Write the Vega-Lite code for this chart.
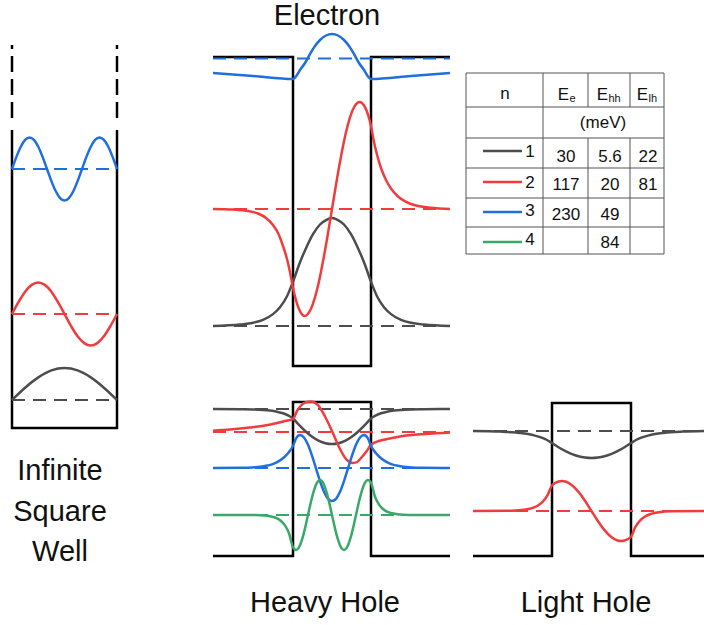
{
  "$schema": "https://vega.github.io/schema/vega-lite/v6.json",
  "width": 704,
  "height": 625,
  "autosize": "none",
  "padding": 0,
  "background": "white",
  "config": {"view": {"stroke": null}, "text": {"font": "Liberation Sans", "color": "#111"}},
  "datasets": {
    "curves": [
      {"g":"isw1","n":1,"x":12,"y":400},{"g":"isw1","n":1,"x":25.1,"y":387.7},{"g":"isw1","n":1,"x":38.3,"y":377.4},{"g":"isw1","n":1,"x":51.4,"y":370.4},{"g":"isw1","n":1,"x":64.5,"y":368},{"g":"isw1","n":1,"x":77.6,"y":370.4},{"g":"isw1","n":1,"x":90.8,"y":377.4},{"g":"isw1","n":1,"x":103.9,"y":387.7},{"g":"isw1","n":1,"x":117,"y":400},
      {"g":"isw2","n":2,"x":12,"y":314},{"g":"isw2","n":2,"x":18.6,"y":301.9},{"g":"isw2","n":2,"x":25.1,"y":291.7},{"g":"isw2","n":2,"x":31.7,"y":284.9},{"g":"isw2","n":2,"x":38.3,"y":282.5},{"g":"isw2","n":2,"x":44.8,"y":284.9},{"g":"isw2","n":2,"x":51.4,"y":291.7},{"g":"isw2","n":2,"x":57.9,"y":301.9},{"g":"isw2","n":2,"x":64.5,"y":314},{"g":"isw2","n":2,"x":71.1,"y":326.1},{"g":"isw2","n":2,"x":77.6,"y":336.3},{"g":"isw2","n":2,"x":84.2,"y":343.1},{"g":"isw2","n":2,"x":90.8,"y":345.5},{"g":"isw2","n":2,"x":97.3,"y":343.1},{"g":"isw2","n":2,"x":103.9,"y":336.3},{"g":"isw2","n":2,"x":110.4,"y":326.1},{"g":"isw2","n":2,"x":117,"y":314},
      {"g":"isw3","n":3,"x":12,"y":169},{"g":"isw3","n":3,"x":16.4,"y":156.9},{"g":"isw3","n":3,"x":20.8,"y":146.7},{"g":"isw3","n":3,"x":25.1,"y":139.9},{"g":"isw3","n":3,"x":29.5,"y":137.5},{"g":"isw3","n":3,"x":33.9,"y":139.9},{"g":"isw3","n":3,"x":38.3,"y":146.7},{"g":"isw3","n":3,"x":42.6,"y":156.9},{"g":"isw3","n":3,"x":47,"y":169},{"g":"isw3","n":3,"x":51.4,"y":181.1},{"g":"isw3","n":3,"x":55.8,"y":191.3},{"g":"isw3","n":3,"x":60.1,"y":198.1},{"g":"isw3","n":3,"x":64.5,"y":200.5},{"g":"isw3","n":3,"x":68.9,"y":198.1},{"g":"isw3","n":3,"x":73.3,"y":191.3},{"g":"isw3","n":3,"x":77.6,"y":181.1},{"g":"isw3","n":3,"x":82,"y":169},{"g":"isw3","n":3,"x":86.4,"y":156.9},{"g":"isw3","n":3,"x":90.8,"y":146.7},{"g":"isw3","n":3,"x":95.1,"y":139.9},{"g":"isw3","n":3,"x":99.5,"y":137.5},{"g":"isw3","n":3,"x":103.9,"y":139.9},{"g":"isw3","n":3,"x":108.3,"y":146.7},{"g":"isw3","n":3,"x":112.6,"y":156.9},{"g":"isw3","n":3,"x":117,"y":169},
      {"g":"e1","n":1,"x":213,"y":326},{"g":"e1","n":1,"x":240,"y":324.6},{"g":"e1","n":1,"x":253,"y":322.8},{"g":"e1","n":1,"x":263,"y":319.8},{"g":"e1","n":1,"x":273,"y":314.1},{"g":"e1","n":1,"x":280,"y":307.2},{"g":"e1","n":1,"x":287,"y":296.2},{"g":"e1","n":1,"x":293,"y":281.7},{"g":"e1","n":1,"x":300,"y":262.3},{"g":"e1","n":1,"x":306,"y":248.2},{"g":"e1","n":1,"x":313,"y":234.2},{"g":"e1","n":1,"x":320,"y":224.5},{"g":"e1","n":1,"x":326,"y":220.1},{"g":"e1","n":1,"x":332,"y":218},{"g":"e1","n":1,"x":338,"y":220.1},{"g":"e1","n":1,"x":344,"y":224.5},{"g":"e1","n":1,"x":351,"y":234.2},{"g":"e1","n":1,"x":358,"y":248.2},{"g":"e1","n":1,"x":364,"y":262.3},{"g":"e1","n":1,"x":371,"y":281.7},{"g":"e1","n":1,"x":377,"y":296.2},{"g":"e1","n":1,"x":384,"y":307.2},{"g":"e1","n":1,"x":391,"y":314.1},{"g":"e1","n":1,"x":401,"y":319.8},{"g":"e1","n":1,"x":411,"y":322.8},{"g":"e1","n":1,"x":424,"y":324.6},{"g":"e1","n":1,"x":450,"y":326},
      {"g":"e2","n":2,"x":213,"y":209},{"g":"e2","n":2,"x":233,"y":209.6},{"g":"e2","n":2,"x":248,"y":211},{"g":"e2","n":2,"x":258,"y":213.5},{"g":"e2","n":2,"x":266,"y":218},{"g":"e2","n":2,"x":273,"y":225},{"g":"e2","n":2,"x":278,"y":233},{"g":"e2","n":2,"x":283,"y":246},{"g":"e2","n":2,"x":287,"y":259},{"g":"e2","n":2,"x":290,"y":272},{"g":"e2","n":2,"x":293,"y":288},{"g":"e2","n":2,"x":299,"y":309},{"g":"e2","n":2,"x":304.5,"y":316},{"g":"e2","n":2,"x":311,"y":308.7},{"g":"e2","n":2,"x":318,"y":285.7},{"g":"e2","n":2,"x":325,"y":250.6},{"g":"e2","n":2,"x":332,"y":209},{"g":"e2","n":2,"x":339,"y":167.4},{"g":"e2","n":2,"x":346,"y":132.3},{"g":"e2","n":2,"x":353,"y":109.3},{"g":"e2","n":2,"x":359.5,"y":102},{"g":"e2","n":2,"x":365,"y":107.2},{"g":"e2","n":2,"x":371,"y":126},{"g":"e2","n":2,"x":374,"y":142},{"g":"e2","n":2,"x":377,"y":154.5},{"g":"e2","n":2,"x":381,"y":168},{"g":"e2","n":2,"x":386,"y":180},{"g":"e2","n":2,"x":391,"y":188.5},{"g":"e2","n":2,"x":398,"y":196.5},{"g":"e2","n":2,"x":406,"y":201.8},{"g":"e2","n":2,"x":416,"y":205.5},{"g":"e2","n":2,"x":431,"y":207.8},{"g":"e2","n":2,"x":450,"y":209},
      {"g":"e3","n":3,"x":213,"y":73},{"g":"e3","n":3,"x":253,"y":76},{"g":"e3","n":3,"x":293,"y":79},{"g":"e3","n":3,"x":297,"y":75},{"g":"e3","n":3,"x":300,"y":70},{"g":"e3","n":3,"x":305,"y":63},{"g":"e3","n":3,"x":310,"y":54},{"g":"e3","n":3,"x":315,"y":46},{"g":"e3","n":3,"x":320,"y":40},{"g":"e3","n":3,"x":326,"y":35.5},{"g":"e3","n":3,"x":332,"y":34},{"g":"e3","n":3,"x":338,"y":35.5},{"g":"e3","n":3,"x":344,"y":40},{"g":"e3","n":3,"x":349,"y":46},{"g":"e3","n":3,"x":354,"y":54},{"g":"e3","n":3,"x":359,"y":63},{"g":"e3","n":3,"x":364,"y":70},{"g":"e3","n":3,"x":367,"y":75},{"g":"e3","n":3,"x":371,"y":79},{"g":"e3","n":3,"x":411,"y":76},{"g":"e3","n":3,"x":450,"y":73},
      {"g":"hh1","n":1,"x":213,"y":409},{"g":"hh1","n":1,"x":240,"y":409.2},{"g":"hh1","n":1,"x":253,"y":409.4},{"g":"hh1","n":1,"x":263,"y":409.9},{"g":"hh1","n":1,"x":270,"y":410.6},{"g":"hh1","n":1,"x":277,"y":411.8},{"g":"hh1","n":1,"x":283,"y":413.3},{"g":"hh1","n":1,"x":288,"y":415.4},{"g":"hh1","n":1,"x":293,"y":418.5},{"g":"hh1","n":1,"x":299,"y":424.9},{"g":"hh1","n":1,"x":306,"y":431.7},{"g":"hh1","n":1,"x":312.5,"y":436.9},{"g":"hh1","n":1,"x":319,"y":440.8},{"g":"hh1","n":1,"x":325.5,"y":443.2},{"g":"hh1","n":1,"x":332,"y":444},{"g":"hh1","n":1,"x":338.5,"y":443.2},{"g":"hh1","n":1,"x":345,"y":440.8},{"g":"hh1","n":1,"x":351.5,"y":436.9},{"g":"hh1","n":1,"x":358,"y":431.7},{"g":"hh1","n":1,"x":365,"y":424.9},{"g":"hh1","n":1,"x":371,"y":418.5},{"g":"hh1","n":1,"x":376,"y":415.4},{"g":"hh1","n":1,"x":381,"y":413.3},{"g":"hh1","n":1,"x":387,"y":411.8},{"g":"hh1","n":1,"x":394,"y":410.6},{"g":"hh1","n":1,"x":401,"y":409.9},{"g":"hh1","n":1,"x":411,"y":409.4},{"g":"hh1","n":1,"x":424,"y":409.2},{"g":"hh1","n":1,"x":450,"y":409},
      {"g":"hh2","n":2,"x":213,"y":430.7},{"g":"hh2","n":2,"x":230,"y":429.5},{"g":"hh2","n":2,"x":250,"y":427.5},{"g":"hh2","n":2,"x":265,"y":425.5},{"g":"hh2","n":2,"x":277,"y":423},{"g":"hh2","n":2,"x":285,"y":421},{"g":"hh2","n":2,"x":293,"y":419},{"g":"hh2","n":2,"x":297,"y":411},{"g":"hh2","n":2,"x":301,"y":405.5},{"g":"hh2","n":2,"x":306,"y":402.2},{"g":"hh2","n":2,"x":311,"y":401.5},{"g":"hh2","n":2,"x":318,"y":405.2},{"g":"hh2","n":2,"x":325,"y":416.5},{"g":"hh2","n":2,"x":332,"y":431},{"g":"hh2","n":2,"x":339,"y":447},{"g":"hh2","n":2,"x":346,"y":459},{"g":"hh2","n":2,"x":353,"y":463},{"g":"hh2","n":2,"x":357,"y":462},{"g":"hh2","n":2,"x":361,"y":458},{"g":"hh2","n":2,"x":366,"y":452},{"g":"hh2","n":2,"x":371,"y":445},{"g":"hh2","n":2,"x":376,"y":442},{"g":"hh2","n":2,"x":385,"y":439.5},{"g":"hh2","n":2,"x":400,"y":436.5},{"g":"hh2","n":2,"x":425,"y":434},{"g":"hh2","n":2,"x":450,"y":432.5},
      {"g":"hh3","n":3,"x":213,"y":468},{"g":"hh3","n":3,"x":240,"y":467.8},{"g":"hh3","n":3,"x":255,"y":467.2},{"g":"hh3","n":3,"x":265,"y":466},{"g":"hh3","n":3,"x":272,"y":464.4},{"g":"hh3","n":3,"x":278,"y":461.7},{"g":"hh3","n":3,"x":283,"y":458.3},{"g":"hh3","n":3,"x":288,"y":453.3},{"g":"hh3","n":3,"x":293,"y":446},{"g":"hh3","n":3,"x":296,"y":438.5},{"g":"hh3","n":3,"x":300,"y":435},{"g":"hh3","n":3,"x":304,"y":437.5},{"g":"hh3","n":3,"x":308,"y":444.8},{"g":"hh3","n":3,"x":312,"y":455.7},{"g":"hh3","n":3,"x":316,"y":468.4},{"g":"hh3","n":3,"x":320,"y":481.1},{"g":"hh3","n":3,"x":324,"y":491.8},{"g":"hh3","n":3,"x":328,"y":498.8},{"g":"hh3","n":3,"x":332,"y":501},{"g":"hh3","n":3,"x":336,"y":498.8},{"g":"hh3","n":3,"x":340,"y":491.8},{"g":"hh3","n":3,"x":344,"y":481.1},{"g":"hh3","n":3,"x":348,"y":468.4},{"g":"hh3","n":3,"x":352,"y":455.7},{"g":"hh3","n":3,"x":356,"y":444.8},{"g":"hh3","n":3,"x":360,"y":437.5},{"g":"hh3","n":3,"x":364,"y":435},{"g":"hh3","n":3,"x":368,"y":438.5},{"g":"hh3","n":3,"x":371,"y":446},{"g":"hh3","n":3,"x":376,"y":453.3},{"g":"hh3","n":3,"x":381,"y":458.3},{"g":"hh3","n":3,"x":386,"y":461.7},{"g":"hh3","n":3,"x":392,"y":464.4},{"g":"hh3","n":3,"x":399,"y":466},{"g":"hh3","n":3,"x":409,"y":467.2},{"g":"hh3","n":3,"x":424,"y":467.8},{"g":"hh3","n":3,"x":450,"y":468},
      {"g":"hh4","n":4,"x":213,"y":515},{"g":"hh4","n":4,"x":255,"y":515.1},{"g":"hh4","n":4,"x":265,"y":515.6},{"g":"hh4","n":4,"x":272,"y":516.7},{"g":"hh4","n":4,"x":277,"y":518.4},{"g":"hh4","n":4,"x":281,"y":521},{"g":"hh4","n":4,"x":285,"y":525.4},{"g":"hh4","n":4,"x":289,"y":533.3},{"g":"hh4","n":4,"x":293,"y":547.3},{"g":"hh4","n":4,"x":296,"y":550},{"g":"hh4","n":4,"x":299,"y":547.3},{"g":"hh4","n":4,"x":302,"y":539.7},{"g":"hh4","n":4,"x":305,"y":528.4},{"g":"hh4","n":4,"x":308,"y":515},{"g":"hh4","n":4,"x":311,"y":501.6},{"g":"hh4","n":4,"x":314,"y":490.3},{"g":"hh4","n":4,"x":317,"y":482.7},{"g":"hh4","n":4,"x":320,"y":480},{"g":"hh4","n":4,"x":323,"y":482.7},{"g":"hh4","n":4,"x":326,"y":490.3},{"g":"hh4","n":4,"x":329,"y":501.6},{"g":"hh4","n":4,"x":332,"y":515},{"g":"hh4","n":4,"x":335,"y":528.4},{"g":"hh4","n":4,"x":338,"y":539.7},{"g":"hh4","n":4,"x":341,"y":547.3},{"g":"hh4","n":4,"x":344,"y":550},{"g":"hh4","n":4,"x":347,"y":547.3},{"g":"hh4","n":4,"x":350,"y":539.7},{"g":"hh4","n":4,"x":353,"y":528.4},{"g":"hh4","n":4,"x":356,"y":515},{"g":"hh4","n":4,"x":359,"y":501.6},{"g":"hh4","n":4,"x":362,"y":490.3},{"g":"hh4","n":4,"x":365,"y":482.7},{"g":"hh4","n":4,"x":368,"y":480},{"g":"hh4","n":4,"x":371,"y":482.7},{"g":"hh4","n":4,"x":375,"y":496.7},{"g":"hh4","n":4,"x":379,"y":504.6},{"g":"hh4","n":4,"x":383,"y":509},{"g":"hh4","n":4,"x":387,"y":511.6},{"g":"hh4","n":4,"x":392,"y":513.3},{"g":"hh4","n":4,"x":399,"y":514.4},{"g":"hh4","n":4,"x":409,"y":514.9},{"g":"hh4","n":4,"x":450,"y":515},
      {"g":"lh1","n":1,"x":473,"y":431},{"g":"lh1","n":1,"x":500,"y":431.6},{"g":"lh1","n":1,"x":512,"y":432.2},{"g":"lh1","n":1,"x":520,"y":433},{"g":"lh1","n":1,"x":528,"y":434.1},{"g":"lh1","n":1,"x":535,"y":435.6},{"g":"lh1","n":1,"x":541,"y":437.4},{"g":"lh1","n":1,"x":547,"y":440},{"g":"lh1","n":1,"x":552,"y":443},{"g":"lh1","n":1,"x":558.5,"y":447.2},{"g":"lh1","n":1,"x":565.5,"y":451.1},{"g":"lh1","n":1,"x":572,"y":454.1},{"g":"lh1","n":1,"x":578.5,"y":456.2},{"g":"lh1","n":1,"x":585,"y":457.5},{"g":"lh1","n":1,"x":591.5,"y":458},{"g":"lh1","n":1,"x":598,"y":457.5},{"g":"lh1","n":1,"x":604.5,"y":456.2},{"g":"lh1","n":1,"x":611,"y":454.1},{"g":"lh1","n":1,"x":617.5,"y":451.1},{"g":"lh1","n":1,"x":624.5,"y":447.2},{"g":"lh1","n":1,"x":631,"y":443},{"g":"lh1","n":1,"x":636,"y":440},{"g":"lh1","n":1,"x":642,"y":437.4},{"g":"lh1","n":1,"x":648,"y":435.6},{"g":"lh1","n":1,"x":655,"y":434.1},{"g":"lh1","n":1,"x":663,"y":433},{"g":"lh1","n":1,"x":671,"y":432.2},{"g":"lh1","n":1,"x":683,"y":431.6},{"g":"lh1","n":1,"x":704,"y":431},
      {"g":"lh2","n":2,"x":473,"y":511},{"g":"lh2","n":2,"x":512,"y":510.7},{"g":"lh2","n":2,"x":524,"y":509.8},{"g":"lh2","n":2,"x":532,"y":508.1},{"g":"lh2","n":2,"x":538,"y":505.5},{"g":"lh2","n":2,"x":543,"y":501.4},{"g":"lh2","n":2,"x":548,"y":494.4},{"g":"lh2","n":2,"x":552,"y":485.2},{"g":"lh2","n":2,"x":558.5,"y":481.5},{"g":"lh2","n":2,"x":562,"y":481},{"g":"lh2","n":2,"x":565.5,"y":481.5},{"g":"lh2","n":2,"x":572,"y":485.2},{"g":"lh2","n":2,"x":578.5,"y":491.9},{"g":"lh2","n":2,"x":585,"y":500.8},{"g":"lh2","n":2,"x":591.5,"y":511},{"g":"lh2","n":2,"x":598,"y":521.2},{"g":"lh2","n":2,"x":604.5,"y":530.1},{"g":"lh2","n":2,"x":611,"y":536.8},{"g":"lh2","n":2,"x":617.5,"y":540.5},{"g":"lh2","n":2,"x":621,"y":541},{"g":"lh2","n":2,"x":624.5,"y":540.5},{"g":"lh2","n":2,"x":631,"y":536.8},{"g":"lh2","n":2,"x":635,"y":527.6},{"g":"lh2","n":2,"x":640,"y":520.6},{"g":"lh2","n":2,"x":645,"y":516.5},{"g":"lh2","n":2,"x":651,"y":513.9},{"g":"lh2","n":2,"x":659,"y":512.2},{"g":"lh2","n":2,"x":671,"y":511.3},{"g":"lh2","n":2,"x":704,"y":511}
    ],
    "levels": [
      {"n":1,"x":12,"x2":117,"y":400},{"n":2,"x":12,"x2":117,"y":314},{"n":3,"x":12,"x2":117,"y":169},
      {"n":1,"x":213,"x2":450,"y":326},{"n":2,"x":213,"x2":450,"y":209},{"n":3,"x":213,"x2":450,"y":58.5},
      {"n":1,"x":213,"x2":450,"y":409},{"n":2,"x":213,"x2":450,"y":432},{"n":3,"x":213,"x2":450,"y":468},{"n":4,"x":213,"x2":450,"y":515},
      {"n":1,"x":473,"x2":704,"y":431},{"n":2,"x":473,"x2":704,"y":511}
    ],
    "walls": [
      {"g":"isw","k":1,"x":12,"y":130},{"g":"isw","k":2,"x":12,"y":428},{"g":"isw","k":3,"x":117,"y":428},{"g":"isw","k":4,"x":117,"y":130},
      {"g":"e","k":1,"x":213,"y":57},{"g":"e","k":2,"x":293,"y":57},{"g":"e","k":3,"x":293,"y":366},{"g":"e","k":4,"x":371,"y":366},{"g":"e","k":5,"x":371,"y":57},{"g":"e","k":6,"x":450,"y":57},
      {"g":"hh","k":1,"x":213,"y":556},{"g":"hh","k":2,"x":293,"y":556},{"g":"hh","k":3,"x":293,"y":402},{"g":"hh","k":4,"x":371,"y":402},{"g":"hh","k":5,"x":371,"y":556},{"g":"hh","k":6,"x":450,"y":556},
      {"g":"lh","k":1,"x":473,"y":556},{"g":"lh","k":2,"x":552,"y":556},{"g":"lh","k":3,"x":552,"y":403},{"g":"lh","k":4,"x":631,"y":403},{"g":"lh","k":5,"x":631,"y":556},{"g":"lh","k":6,"x":704,"y":556}
    ],
    "openWalls": [
      {"x":12,"y":118,"y2":45},{"x":117,"y":118,"y2":45}
    ],
    "grid": [
      {"x":466,"y":73,"x2":664,"y2":73},{"x":466,"y":107,"x2":664,"y2":107},{"x":466,"y":138,"x2":664,"y2":138},{"x":466,"y":168,"x2":664,"y2":168},{"x":466,"y":198,"x2":664,"y2":198},{"x":466,"y":227,"x2":664,"y2":227},{"x":466,"y":254,"x2":664,"y2":254},
      {"x":466,"y":73,"x2":466,"y2":254},{"x":543,"y":73,"x2":543,"y2":254},{"x":588,"y":73,"x2":588,"y2":107},{"x":588,"y":138,"x2":588,"y2":254},{"x":630,"y":73,"x2":630,"y2":107},{"x":630,"y":138,"x2":630,"y2":254},{"x":664,"y":73,"x2":664,"y2":254}
    ],
    "keys": [
      {"n":1,"x":483,"x2":522,"y":151},{"n":2,"x":483,"x2":522,"y":182},{"n":3,"x":483,"x2":522,"y":212},{"n":4,"x":483,"x2":522,"y":242}
    ],
    "titles": [
      {"t":"Electron","x":327,"y":25},{"t":"Infinite","x":60,"y":480},{"t":"Square","x":60,"y":521},{"t":"Well","x":60,"y":561},{"t":"Heavy Hole","x":325,"y":612},{"t":"Light Hole","x":586,"y":612}
    ],
    "cells": [
      {"t":"n","x":505,"y":98.5},{"t":"(meV)","x":603,"y":128},
      {"t":"1","x":530,"y":157},{"t":"2","x":530,"y":187.5},{"t":"3","x":530,"y":216},{"t":"4","x":530,"y":244.5},
      {"t":"30","x":566,"y":161.5},{"t":"5.6","x":610,"y":161.5},{"t":"22","x":648,"y":161.5},
      {"t":"117","x":566,"y":190},{"t":"20","x":610,"y":190},{"t":"81","x":648,"y":190},
      {"t":"230","x":566,"y":219.5},{"t":"49","x":610,"y":219.5},
      {"t":"84","x":610,"y":248}
    ],
    "energySymbols": [
      {"t":"E","x":569,"y":99.5},{"t":"E","x":608,"y":99.5},{"t":"E","x":648,"y":99.5}
    ],
    "subscripts": [
      {"t":"e","x":569.5,"y":101.5},{"t":"hh","x":608.5,"y":101.5},{"t":"lh","x":648.5,"y":101.5}
    ]
  },
  "layer": [
    {
      "data": {"name": "walls"},
      "mark": {"type": "line", "color": "#000000", "strokeWidth": 2.5, "strokeJoin": "miter"},
      "encoding": {
        "x": {"field": "x", "type": "quantitative", "scale": {"domain": [0, 704], "nice": false, "zero": false}, "axis": null},
        "y": {"field": "y", "type": "quantitative", "scale": {"domain": [0, 625], "nice": false, "zero": false, "reverse": true}, "axis": null},
        "detail": {"field": "g"},
        "order": {"field": "k", "type": "quantitative"}
      }
    },
    {
      "data": {"name": "openWalls"},
      "mark": {"type": "rule", "color": "#000000", "strokeWidth": 2.5, "strokeDash": [16, 7]},
      "encoding": {
        "x": {"field": "x", "type": "quantitative"},
        "y": {"field": "y", "type": "quantitative"},
        "y2": {"field": "y2"}
      }
    },
    {
      "data": {"name": "levels"},
      "mark": {"type": "rule", "strokeWidth": 2.2, "strokeDash": [13, 8]},
      "encoding": {
        "x": {"field": "x", "type": "quantitative"},
        "x2": {"field": "x2"},
        "y": {"field": "y", "type": "quantitative"},
        "color": {"field": "n", "type": "nominal", "scale": {"domain": [1, 2, 3, 4], "range": ["#4d4d4d", "#f03c3c", "#1f6fdf", "#3aa867"]}, "legend": null}
      }
    },
    {
      "data": {"name": "curves"},
      "mark": {"type": "line", "strokeWidth": 2.5, "interpolate": "monotone"},
      "encoding": {
        "x": {"field": "x", "type": "quantitative"},
        "y": {"field": "y", "type": "quantitative"},
        "detail": {"field": "g"},
        "color": {"field": "n", "type": "nominal", "legend": null}
      }
    },
    {
      "data": {"name": "grid"},
      "mark": {"type": "rule", "color": "#555555", "strokeWidth": 1},
      "encoding": {
        "x": {"field": "x", "type": "quantitative"},
        "y": {"field": "y", "type": "quantitative"},
        "x2": {"field": "x2"},
        "y2": {"field": "y2"}
      }
    },
    {
      "data": {"name": "keys"},
      "mark": {"type": "rule", "strokeWidth": 2.5},
      "encoding": {
        "x": {"field": "x", "type": "quantitative"},
        "x2": {"field": "x2"},
        "y": {"field": "y", "type": "quantitative"},
        "color": {"field": "n", "type": "nominal", "legend": null}
      }
    },
    {
      "data": {"name": "titles"},
      "mark": {"type": "text", "fontSize": 29, "align": "center", "baseline": "alphabetic"},
      "encoding": {
        "x": {"field": "x", "type": "quantitative"},
        "y": {"field": "y", "type": "quantitative"},
        "text": {"field": "t"}
      }
    },
    {
      "data": {"name": "cells"},
      "mark": {"type": "text", "fontSize": 17, "align": "center", "baseline": "alphabetic"},
      "encoding": {
        "x": {"field": "x", "type": "quantitative"},
        "y": {"field": "y", "type": "quantitative"},
        "text": {"field": "t"}
      }
    },
    {
      "data": {"name": "energySymbols"},
      "mark": {"type": "text", "fontSize": 17, "align": "right", "baseline": "alphabetic"},
      "encoding": {
        "x": {"field": "x", "type": "quantitative"},
        "y": {"field": "y", "type": "quantitative"},
        "text": {"field": "t"}
      }
    },
    {
      "data": {"name": "subscripts"},
      "mark": {"type": "text", "fontSize": 11, "align": "left", "baseline": "alphabetic"},
      "encoding": {
        "x": {"field": "x", "type": "quantitative"},
        "y": {"field": "y", "type": "quantitative"},
        "text": {"field": "t"}
      }
    }
  ]
}
